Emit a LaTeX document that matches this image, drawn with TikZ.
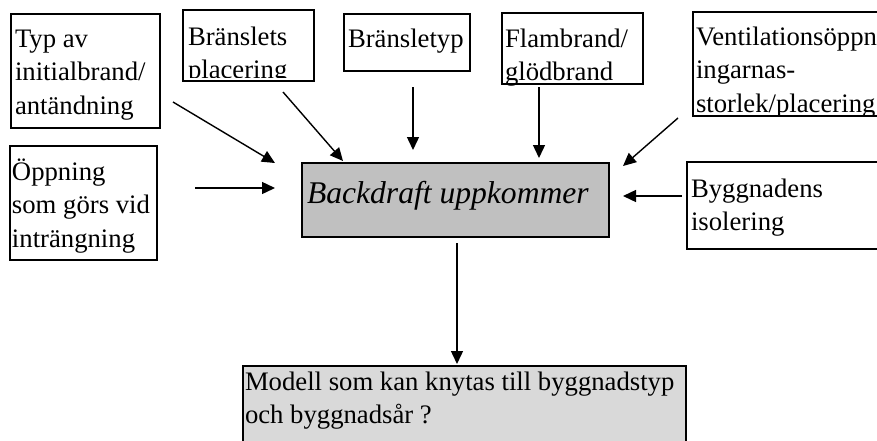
\documentclass[tikz,border=0pt]{standalone}
\usepackage{fontspec}
\setmainfont{Liberation Serif}
\usetikzlibrary{arrows.meta}
\definecolor{midgray}{HTML}{C0C0C0}
\definecolor{palegray}{HTML}{D9D9D9}
\tikzset{
  box/.style={draw=black, line width=1.6pt, rectangle, inner sep=0pt, outer sep=0pt, anchor=north west},
  txt/.style={inner sep=0pt, outer sep=0pt, anchor=base west, font=\fontsize{26.7}{33.5}\selectfont},
  bigtxt/.style={inner sep=0pt, outer sep=0pt, anchor=base west, font=\fontsize{31.6}{38}\selectfont\itshape},
  arr/.style={line width=1.4pt, -{Triangle[length=13pt,width=12pt]}},
}
\begin{document}
\begin{tikzpicture}[x=1pt,y=-1pt]
\clip (0,0) rectangle (877,440);
\fill[white] (0,0) rectangle (877,440);

% boxes
\node[box, minimum width=149pt, minimum height=114pt] (b1) at (11,14) {};
\node[box, minimum width=131pt, minimum height=71pt] (b2) at (183,10) {};
\node[box, minimum width=126pt, minimum height=57pt] (b3) at (344,14) {};
\node[box, minimum width=141pt, minimum height=71pt] (b4) at (502,13) {};
\node[box, minimum width=250pt, minimum height=104pt] (b5) at (693,12) {};
\node[box, minimum width=147pt, minimum height=114pt] (b6) at (10,146) {};
\node[box, fill=midgray, minimum width=307pt, minimum height=74pt] (bc) at (302,163) {};
\node[box, minimum width=250pt, minimum height=87pt] (b7) at (687,162) {};
\node[box, fill=palegray, minimum width=443pt, minimum height=120pt] (bb) at (243,366) {};

% texts
\node[txt] (t1) at (15,47) {\vtop{\hbox{Typ av}\hbox{initialbrand/}\hbox{antändning}}};
\begin{scope}
\clip (184,11) rectangle (313,77);
\node[txt] (t2) at (188,45) {\vtop{\hbox{Bränslets}\hbox{placering}}};
\end{scope}
\node[txt] (t3) at (348,47) {\vtop{\hbox{Bränsletyp}}};
\node[txt] (t4) at (505,47) {\vtop{\hbox{Flambrand/}\hbox{glödbrand}}};
\begin{scope}
\clip (694,13) rectangle (877,115);
\node[txt] (t5) at (696,45) {\vtop{\hbox{Ventilationsöppn}\hbox{ingarnas-}\hbox{storlek/placering}}};
\end{scope}
\node[txt] (t6) at (12,180) {\vtop{\hbox{Öppning}\hbox{som görs vid}\hbox{inträngning}}};
\node[bigtxt] (tc) at (307,203) {Backdraft uppkommer};
\node[txt] (t7) at (691,197) {\vtop{\hbox{Byggnadens}\hbox{isolering}}};
\node[txt] (tb) at (245,390) {\vtop{\hbox{Modell som kan knytas till byggnadstyp}\hbox{och byggnadsår ?}}};

% arrow end points
\coordinate (a1s) at (173,102); \coordinate (a1e) at (275,163);
\coordinate (a2s) at (195,188); \coordinate (a2e) at (275,188);
\coordinate (a3s) at (283,92);  \coordinate (a3e) at (343,161);
\coordinate (a4s) at (413,87);  \coordinate (a4e) at (413,150);
\coordinate (a5s) at (539,87);  \coordinate (a5e) at (539,158);
\coordinate (a6s) at (678,118); \coordinate (a6e) at (623,166);
\coordinate (a7s) at (682,196); \coordinate (a7e) at (623,196);
\coordinate (a8s) at (457,243); \coordinate (a8e) at (457,364);

\draw[arr] (a1s) -- (a1e);
\draw[arr] (a2s) -- (a2e);
\draw[arr] (a3s) -- (a3e);
\draw[arr] (a4s) -- (a4e);
\draw[arr] (a5s) -- (a5e);
\draw[arr] (a6s) -- (a6e);
\draw[arr] (a7s) -- (a7e);
\draw[arr] (a8s) -- (a8e);
\end{tikzpicture}
\end{document}
